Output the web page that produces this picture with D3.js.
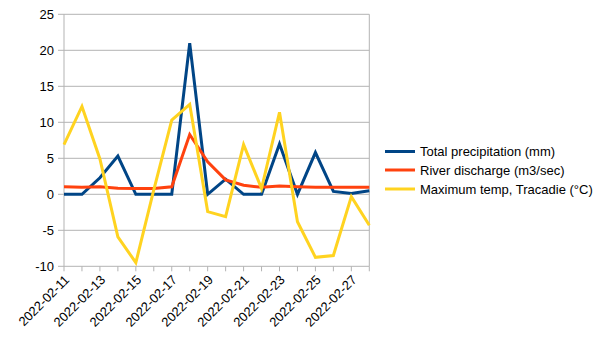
<!DOCTYPE html>
<html><head><meta charset="utf-8">
<script src="https://cdn.jsdelivr.net/npm/d3@7"></script>
<style>body{margin:0;background:#fff;} text{font-family:"Liberation Sans",Arial,sans-serif;}</style>
</head><body>
<svg id="c" width="605" height="340"></svg>
<script>
const dates = ["2022-02-11","2022-02-12","2022-02-13","2022-02-14","2022-02-15","2022-02-16","2022-02-17","2022-02-18","2022-02-19","2022-02-20","2022-02-21","2022-02-22","2022-02-23","2022-02-24","2022-02-25","2022-02-26","2022-02-27","2022-02-28"];
const precipitation = [0,0,2.3,5.3,0,0,0,21,0,2.1,0,0,7.0,0,5.8,0.4,0.1,0.5];
const discharge = [1.05,0.97,1.05,0.83,0.8,0.8,1.05,8.3,4.5,2.0,1.25,0.97,1.15,1.05,0.97,0.97,0.97,0.97];
const maxTemp = [6.9,12.2,4.9,-5.9,-9.5,0.6,10.3,12.5,-2.4,-3.1,6.9,0.8,11.4,-3.8,-8.75,-8.5,-0.33,-4.3];
const yTicks = [-10,-5,0,5,10,15,20,25];
const seriesNames = ["Total precipitation (mm)","River discharge (m3/sec)","Maximum temp, Tracadie (°C)"];
const colors = ["#004586","#ff420e","#ffd320"];

const svg = d3.select("#c");
const L=64, R=369.3, T=14.3, B=266.3;
const x = d3.scalePoint().domain(dates).range([L,R]);
const y = d3.scaleLinear().domain([-10,25]).range([B,T]);
const grid="#b3b3b3";

svg.append("g").selectAll("line").data(yTicks).join("line")
  .attr("x1",L-6).attr("x2",R).attr("y1",d=>y(d)).attr("y2",d=>y(d))
  .attr("stroke",grid).attr("stroke-width",1);
svg.append("g").selectAll("text").data(yTicks).join("text")
  .attr("x",54).attr("y",d=>y(d)).attr("dy","0.35em").attr("text-anchor","end")
  .attr("font-size",13).attr("fill","#000").text(d=>d);
svg.append("line").attr("x1",L).attr("x2",L).attr("y1",T).attr("y2",B).attr("stroke",grid);
svg.append("line").attr("x1",R).attr("x2",R).attr("y1",T).attr("y2",B).attr("stroke",grid);
svg.append("g").selectAll("line").data(dates).join("line")
  .attr("x1",d=>x(d)).attr("x2",d=>x(d)).attr("y1",B).attr("y2",B+5).attr("stroke",grid);
svg.append("g").selectAll("text").data(dates.filter((d,i)=>i%2===0)).join("text")
  .attr("transform",d=>`translate(${x(d)+3},${B+11}) rotate(-45)`)
  .attr("text-anchor","end").attr("dy","0.35em").attr("font-size",13).attr("fill","#000").text(d=>d);

const line = d3.line().x((d,i)=>x(dates[i])).y(d=>y(d));
[precipitation,discharge,maxTemp].forEach((s,k)=>{
  svg.append("path").datum(s).attr("d",line).attr("fill","none")
    .attr("stroke",colors[k]).attr("stroke-width",3).attr("stroke-linejoin","miter");
});
const lg = svg.append("g");
const ly=[151.5,170,189];
seriesNames.forEach((n,k)=>{
  lg.append("line").attr("x1",385).attr("x2",415).attr("y1",ly[k]).attr("y2",ly[k]).attr("stroke",colors[k]).attr("stroke-width",3);
  lg.append("text").attr("x",420).attr("y",ly[k]).attr("dy","0.35em").attr("font-size",13).attr("fill","#000").text(n);
});
</script>
</body></html>
